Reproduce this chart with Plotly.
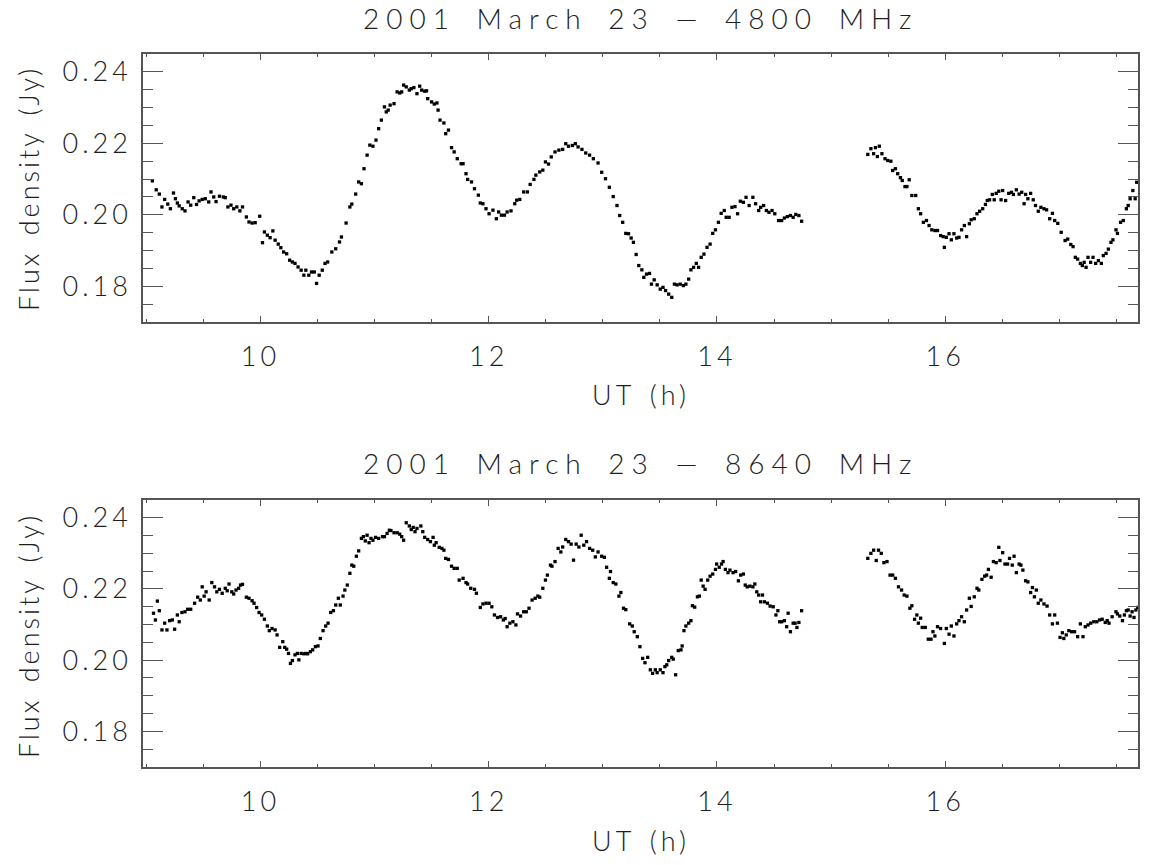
import plotly.graph_objects as go

# ---------------- data (UT hours, flux density Jy) ----------------
t_4800 = [
9.052,9.086,9.113,9.136,9.160,9.187,9.210,9.237,9.254,9.271,9.287,9.314,9.338,9.365,9.388,9.415,9.439,9.462,9.489,9.516,
9.546,9.566,9.590,9.610,9.640,9.674,9.691,9.714,9.741,9.765,9.792,9.819,9.842,9.876,9.899,9.926,9.953,9.993,
10.017,10.034,10.060,10.084,10.108,10.128,10.155,10.178,10.202,10.229,10.255,10.279,10.302,10.329,10.356,10.380,10.397,10.423,
10.447,10.471,10.491,10.514,10.541,10.565,10.588,10.625,10.659,10.692,10.709,10.750,10.783,10.800,10.834,10.860,10.884,10.907,
10.934,10.958,10.985,11.012,11.035,11.059,11.086,11.102,11.119,11.136,11.170,11.197,11.220,11.237,11.254,11.277,11.304,11.321,
11.344,11.371,11.395,11.412,11.439,11.455,11.465,11.499,11.523,11.546,11.556,11.573,11.607,11.623,11.647,11.674,11.697,11.724,
11.758,11.775,11.801,11.815,11.849,11.875,11.909,11.926,11.949,11.976,12.003,12.037,12.067,12.087,12.111,12.138,12.161,12.195,
12.228,12.245,12.272,12.306,12.339,12.363,12.396,12.413,12.447,12.474,12.497,12.524,12.548,12.581,12.615,12.648,12.675,12.699,
12.733,12.759,12.783,12.817,12.850,12.884,12.917,12.958,
12.990,13.023,13.057,13.091,13.124,13.148,13.174,13.201,13.225,13.248,13.268,13.292,13.315,13.342,13.359,13.383,13.409,13.426,
13.450,13.476,13.503,13.527,13.550,13.577,13.604,13.627,13.651,13.678,13.705,13.728,13.752,13.772,13.795,13.819,13.839,13.862,
13.886,13.913,13.940,13.963,13.987,14.013,14.037,14.064,14.081,14.107,14.131,14.158,14.181,14.205,14.232,14.255,14.282,14.315,
14.339,14.366,14.383,14.409,14.433,14.456,14.483,14.507,14.540,14.567,14.591,14.617,14.644,14.668,14.691,14.718,14.742,
15.322,15.349,15.373,15.389,15.406,15.423,15.446,15.473,15.497,15.524,15.540,15.564,15.584,15.608,15.624,15.648,15.665,15.685,
15.708,15.742,15.765,15.785,15.809,15.836,15.859,15.883,15.910,15.933,15.960,15.983,15.993,16.010,16.034,16.054,16.077,16.101,
16.121,16.144,16.168,16.188,16.212,16.228,16.255,16.279,16.302,16.329,16.353,16.369,16.389,16.413,16.430,16.447,16.470,16.490,
16.504,16.530,16.557,16.581,16.598,16.624,16.648,16.671,16.692,16.705,16.725,16.749,16.772,16.792,16.816,16.839,16.866,16.889,
16.916,16.940,16.960,16.987,17.017,17.051,17.074,17.101,17.121,17.141,17.161,17.185,17.202,17.218,17.235,17.252,17.275,17.296,
17.319,17.343,17.369,17.386,17.410,17.430,17.453,17.470,17.497,17.510,17.537,17.561,17.588,17.604,17.621,17.645,17.665,17.678,
]
f_4800 = [
0.2095,0.2070,0.2058,0.2022,0.2043,0.2030,0.2017,0.2061,0.2045,0.2033,0.2025,0.2017,0.2011,0.2036,0.2027,0.2048,0.2029,0.2039,0.2043,0.2045,
0.2036,0.2064,0.2050,0.2037,0.2052,0.2050,0.2048,0.2022,0.2027,0.2017,0.2022,0.2011,0.2022,0.1994,0.1980,0.1977,0.1978,0.1996,
0.1922,0.1952,0.1943,0.1936,0.1955,0.1929,0.1918,0.1908,0.1896,0.1891,0.1873,0.1868,0.1864,0.1854,0.1845,0.1831,0.1845,0.1831,
0.1840,0.1840,0.1808,0.1831,0.1845,0.1864,0.1868,0.1896,0.1905,0.1924,0.1938,0.1977,0.2022,0.2030,0.2058,0.2092,0.2087,0.2129,
0.2167,0.2195,0.2192,0.2209,0.2241,0.2265,0.2302,0.2288,0.2293,0.2307,0.2311,0.2344,0.2341,0.2344,0.2363,0.2358,0.2349,0.2353,
0.2356,0.2339,0.2360,0.2349,0.2346,0.2347,0.2325,0.2316,0.2310,0.2313,0.2293,0.2265,0.2257,0.2227,0.2237,0.2188,0.2176,0.2157,
0.2143,0.2143,0.2115,0.2099,0.2092,0.2073,0.2055,0.2033,0.2031,0.2017,0.2003,0.2013,0.1989,0.2008,0.1999,0.1999,0.2008,0.2011,
0.2031,0.2041,0.2043,0.2064,0.2064,0.2085,0.2099,0.2111,0.2120,0.2125,0.2148,0.2142,0.2162,0.2176,0.2181,0.2183,0.2199,0.2192,
0.2194,0.2199,0.2190,0.2183,0.2173,0.2167,0.2157,0.2145,
0.2119,0.2101,0.2077,0.2051,0.2026,0.1998,0.1979,0.1948,0.1947,0.1935,0.1923,0.1889,0.1858,0.1846,0.1825,0.1834,0.1836,0.1806,
0.1818,0.1804,0.1792,0.1797,0.1788,0.1778,0.1769,0.1806,0.1804,0.1806,0.1802,0.1806,0.1820,0.1846,0.1853,0.1864,0.1853,0.1881,
0.1890,0.1909,0.1918,0.1948,0.1958,0.1979,0.2004,0.2012,0.1993,0.1993,0.2021,0.2023,0.2003,0.2038,0.2035,0.2049,0.2026,0.2049,
0.2031,0.2012,0.2021,0.2026,0.2012,0.2007,0.2012,0.2003,0.1984,0.1984,0.1991,0.1995,0.1998,0.1993,0.2001,0.1998,0.1982,
0.2169,0.2185,0.2171,0.2188,0.2163,0.2192,0.2171,0.2157,0.2152,0.2150,0.2124,0.2129,0.2115,0.2104,0.2096,0.2079,0.2079,0.2098,
0.2054,0.2054,0.2017,0.2003,0.1979,0.1984,0.1970,0.1958,0.1956,0.1956,0.1942,0.1939,0.1909,0.1937,0.1947,0.1930,0.1947,0.1935,
0.1937,0.1958,0.1970,0.1939,0.1975,0.1986,0.1989,0.2003,0.2010,0.2017,0.2029,0.2040,0.2042,0.2057,0.2042,0.2060,0.2066,0.2042,
0.2068,0.2040,0.2060,0.2063,0.2057,0.2070,0.2058,0.2063,0.2031,0.2057,0.2045,0.2060,0.2042,0.2026,0.2010,0.2021,0.2017,0.2014,
0.1989,0.2004,0.1984,0.1976,0.1951,0.1928,0.1932,0.1917,0.1911,0.1881,0.1876,0.1864,0.1858,0.1867,0.1853,0.1881,0.1867,0.1881,
0.1864,0.1872,0.1864,0.1886,0.1892,0.1904,0.1923,0.1930,0.1958,0.1948,0.1979,0.1984,0.2017,0.2026,0.2045,0.2068,0.2045,0.2091,
]

t_8640 = [
9.062,9.079,9.096,9.113,9.136,9.160,9.180,9.203,9.227,9.247,9.271,9.287,9.311,9.338,9.361,9.388,9.422,9.449,9.472,9.489,
9.506,9.523,9.550,9.573,9.597,9.617,9.640,9.664,9.691,9.708,9.724,9.748,9.765,9.785,9.808,9.825,9.842,9.876,9.899,9.926,
9.943,9.966,9.987,10.010,10.034,10.060,10.077,10.101,10.128,10.145,10.168,10.195,10.212,10.229,10.245,10.262,10.279,10.302,
10.323,10.336,10.356,10.380,10.397,10.413,10.437,10.457,10.481,10.504,10.524,10.548,10.571,10.592,10.615,10.639,10.659,10.682,
10.699,10.723,10.739,10.760,10.783,10.800,10.817,10.840,10.860,10.884,10.901,10.918,10.934,10.951,10.968,10.985,11.008,11.035,
11.069,11.086,11.109,11.129,11.143,11.170,11.197,11.220,11.237,11.254,11.277,11.304,11.321,11.338,11.354,11.371,11.405,11.422,
11.439,11.465,11.489,11.512,11.523,11.539,11.566,11.590,11.607,11.623,11.647,11.674,11.697,11.724,11.741,11.775,11.801,11.815,
11.842,11.875,11.892,11.926,11.949,11.976,12.003,12.027,12.050,12.077,12.104,12.128,12.144,12.161,12.185,12.212,12.238,12.252,
12.279,12.306,12.329,12.353,12.380,12.407,12.430,12.447,12.474,12.497,12.514,12.541,12.554,12.581,12.608,12.632,12.648,12.675,
12.699,12.722,12.743,12.766,12.790,12.810,12.833,12.857,12.884,12.911,12.934,12.958,
12.990,13.013,13.033,13.057,13.067,13.091,13.114,13.141,13.158,13.181,13.201,13.235,13.258,13.275,13.302,13.325,13.349,13.369,
13.393,13.416,13.436,13.460,13.476,13.503,13.527,13.544,13.560,13.577,13.604,13.617,13.638,13.661,13.685,13.695,13.711,13.728,
13.752,13.772,13.785,13.805,13.829,13.846,13.862,13.879,13.896,13.919,13.940,13.963,13.987,13.997,14.020,14.040,14.054,14.074,
14.097,14.114,14.141,14.164,14.188,14.208,14.232,14.248,14.265,14.289,14.315,14.332,14.349,14.366,14.383,14.399,14.416,14.443,
14.466,14.493,14.517,14.534,14.550,14.567,14.591,14.611,14.624,14.644,14.668,14.685,14.701,14.718,14.742,
15.322,15.349,15.373,15.396,15.416,15.440,15.463,15.490,15.517,15.540,15.564,15.591,15.618,15.641,15.665,15.691,15.708,15.732,
15.752,15.765,15.785,15.799,15.826,15.852,15.876,15.893,15.910,15.933,15.960,15.993,16.010,16.034,16.054,16.077,16.101,16.121,
16.144,16.168,16.188,16.212,16.228,16.255,16.279,16.295,16.322,16.346,16.363,16.379,16.403,16.423,16.447,16.470,16.480,16.504,
16.524,16.547,16.564,16.588,16.604,16.624,16.648,16.664,16.681,16.705,16.725,16.749,16.765,16.782,16.799,16.816,16.839,16.866,
16.893,16.916,16.940,16.960,16.984,17.007,17.027,17.040,17.061,17.084,17.108,17.134,17.161,17.185,17.208,17.228,17.252,17.275,
17.302,17.329,17.353,17.376,17.403,17.420,17.436,17.463,17.497,17.510,17.530,17.554,17.571,17.588,17.604,17.621,17.638,17.655,
17.671,17.688,
]
f_8640 = [
0.2132,0.2113,0.2166,0.2139,0.2085,0.2104,0.2085,0.2111,0.2113,0.2087,0.2127,0.2108,0.2134,0.2136,0.2143,0.2143,0.2160,0.2177,0.2169,0.2206,
0.2180,0.2192,0.2169,0.2218,0.2206,0.2192,0.2199,0.2188,0.2202,0.2195,0.2214,0.2192,0.2186,0.2197,0.2202,0.2211,0.2213,0.2177,0.2174,0.2167,
0.2160,0.2148,0.2134,0.2127,0.2115,0.2096,0.2083,0.2089,0.2085,0.2071,0.2036,0.2052,0.2036,0.2031,0.2019,0.1991,0.1999,0.2015,
0.2019,0.2001,0.2019,0.2018,0.2019,0.2018,0.2024,0.2029,0.2038,0.2040,0.2061,0.2083,0.2096,0.2104,0.2134,0.2139,0.2155,0.2174,
0.2155,0.2180,0.2197,0.2211,0.2244,0.2267,0.2264,0.2292,0.2307,0.2342,0.2347,0.2335,0.2351,0.2330,0.2342,0.2337,0.2345,0.2342,
0.2347,0.2347,0.2356,0.2365,0.2364,0.2358,0.2358,0.2354,0.2347,0.2337,0.2386,0.2377,0.2367,0.2373,0.2361,0.2370,0.2377,0.2361,
0.2345,0.2339,0.2333,0.2345,0.2323,0.2330,0.2317,0.2314,0.2309,0.2286,0.2283,0.2264,0.2258,0.2258,0.2225,0.2230,0.2218,0.2214,
0.2202,0.2199,0.2188,0.2148,0.2158,0.2160,0.2160,0.2150,0.2127,0.2120,0.2122,0.2113,0.2117,0.2094,0.2104,0.2108,0.2099,0.2130,
0.2124,0.2136,0.2136,0.2146,0.2169,0.2174,0.2180,0.2177,0.2202,0.2225,0.2239,0.2267,0.2264,0.2277,0.2314,0.2304,0.2318,0.2339,
0.2333,0.2326,0.2281,0.2326,0.2318,0.2351,0.2323,0.2333,0.2314,0.2309,0.2290,0.2304,
0.2292,0.2289,0.2261,0.2230,0.2249,0.2218,0.2214,0.2180,0.2190,0.2146,0.2142,0.2102,0.2096,0.2080,0.2066,0.2038,0.2005,0.1993,
0.2008,0.1973,0.1963,0.1973,0.1965,0.1973,0.1965,0.1982,0.1987,0.1999,0.2008,0.2003,0.1959,0.2027,0.2029,0.2040,0.2083,0.2096,
0.2104,0.2111,0.2153,0.2149,0.2178,0.2180,0.2225,0.2208,0.2199,0.2225,0.2236,0.2242,0.2255,0.2270,0.2261,0.2270,0.2277,0.2255,
0.2246,0.2253,0.2246,0.2249,0.2223,0.2239,0.2242,0.2211,0.2206,0.2208,0.2206,0.2214,0.2192,0.2183,0.2164,0.2183,0.2164,0.2160,
0.2152,0.2150,0.2127,0.2139,0.2108,0.2108,0.2111,0.2094,0.2132,0.2080,0.2104,0.2104,0.2092,0.2106,0.2139,
0.2286,0.2300,0.2309,0.2280,0.2309,0.2300,0.2274,0.2277,0.2239,0.2239,0.2230,0.2206,0.2197,0.2183,0.2180,0.2146,0.2153,0.2115,
0.2127,0.2104,0.2118,0.2092,0.2092,0.2059,0.2059,0.2080,0.2068,0.2094,0.2089,0.2047,0.2089,0.2073,0.2096,0.2068,0.2102,0.2111,
0.2122,0.2108,0.2141,0.2174,0.2151,0.2178,0.2202,0.2197,0.2227,0.2236,0.2239,0.2255,0.2233,0.2277,0.2274,0.2317,0.2280,0.2302,
0.2270,0.2270,0.2286,0.2267,0.2292,0.2246,0.2270,0.2267,0.2253,0.2223,0.2220,0.2190,0.2204,0.2178,0.2197,0.2160,0.2169,0.2158,
0.2152,0.2127,0.2102,0.2127,0.2104,0.2064,0.2077,0.2061,0.2071,0.2083,0.2080,0.2080,0.2066,0.2102,0.2066,0.2094,0.2099,0.2104,
0.2108,0.2108,0.2113,0.2115,0.2106,0.2111,0.2104,0.2122,0.2136,0.2130,0.2124,0.2111,0.2127,0.2139,0.2141,0.2124,0.2136,0.2120,
0.2141,0.2148,
]

titles = ["2001 March 23 \u2014 4800 MHz", "2001 March 23 \u2014 8640 MHz"]
x_label = "UT (h)"
y_label = "Flux density (Jy)"
x_tick_vals = [10, 12, 14, 16]
x_tick_text = ["10", "12", "14", "16"]
y_tick_vals = [0.18, 0.20, 0.22, 0.24]
y_tick_text = ["0.18", "0.20", "0.22", "0.24"]
x_range = [8.97, 17.69]
y_range = [0.17, 0.245]

# ---------------- figure ----------------
FONT = "Lato, DejaVu Sans, sans-serif"
W = 300
TXT = "#1e1e1e"
AX = "#555555"

def spaced(s, ls, ws=0):
    return '<span style="letter-spacing:%dpx; word-spacing:%dpx">%s</span>' % (ls, ws, s)

fig = go.Figure()
for xs, ys, xa, ya in [(t_4800, f_4800, "x", "y"), (t_8640, f_8640, "x2", "y2")]:
    fig.add_trace(go.Scatter(x=xs, y=ys, mode="markers", xaxis=xa, yaxis=ya,
                             marker=dict(color="black", size=3.3, symbol="square"),
                             showlegend=False, hoverinfo="skip"))

def xaxis(anchor):
    return dict(range=x_range, anchor=anchor, domain=[0, 1], showgrid=False, zeroline=False,
                showline=True, linecolor=AX, linewidth=1.5, mirror="ticks",
                ticks="inside", ticklen=6, tickwidth=1.2, tickcolor=AX,
                tickmode="array", tickvals=x_tick_vals,
                ticktext=[spaced(s, 4) for s in x_tick_text],
                minor=dict(ticks="inside", ticklen=3, tickwidth=1.2, tickcolor=AX,
                           tickmode="linear", dtick=0.5, tick0=0),
                tickfont=dict(family=FONT, size=27, color=TXT, weight=W),
                ticklabelstandoff=10)

def yaxis(anchor, dom):
    return dict(range=y_range, anchor=anchor, domain=dom, showgrid=False, zeroline=False,
                showline=True, linecolor=AX, linewidth=1.5, mirror="ticks",
                ticks="inside", ticklen=20, tickwidth=1.2, tickcolor=AX,
                tickmode="array", tickvals=y_tick_vals,
                ticktext=[spaced(s, 4) for s in y_tick_text],
                minor=dict(ticks="inside", ticklen=10, tickwidth=1.2, tickcolor=AX,
                           tickmode="linear", dtick=0.005, tick0=0),
                tickfont=dict(family=FONT, size=27, color=TXT, weight=W),
                ticklabelstandoff=4)

top_dom = [0.6241, 1.0]
bot_dom = [0.0, 0.3745]

fig.update_layout(
    width=1151, height=865,
    margin=dict(l=143, r=13, t=54, b=98),
    paper_bgcolor="white", plot_bgcolor="white",
    xaxis=xaxis("y"), yaxis=yaxis("x", top_dom),
    xaxis2=xaxis("y2"), yaxis2=yaxis("x2", bot_dom),
)

def ann(text, x, y, size, angle=0):
    return dict(text=text, x=x, y=y, xref="paper", yref="paper", showarrow=False,
                xanchor="center", yanchor="middle", textangle=angle,
                font=dict(family=FONT, size=size, color=TXT, weight=W))

fig.update_layout(annotations=[
    ann(spaced(titles[0], 7, 6), 0.5, 1.0505, 28),
    ann(spaced(titles[1], 7, 6), 0.5, 0.4264, 28),
    ann(spaced(x_label, 4, 4), 0.5, 0.523, 27),
    ann(spaced(x_label, 4, 4), 0.5, -0.1024, 27),
    ann(spaced(y_label, 3, 5), -0.1156, 0.812, 27, -90),
    ann(spaced(y_label, 3, 5), -0.1156, 0.185, 27, -90),
])

# remove the default 8 px page margin so the figure fills the window exactly
fig.write_html("out.html", config={"displayModeBar": False},
               post_script="document.body.style.margin='0px';")
